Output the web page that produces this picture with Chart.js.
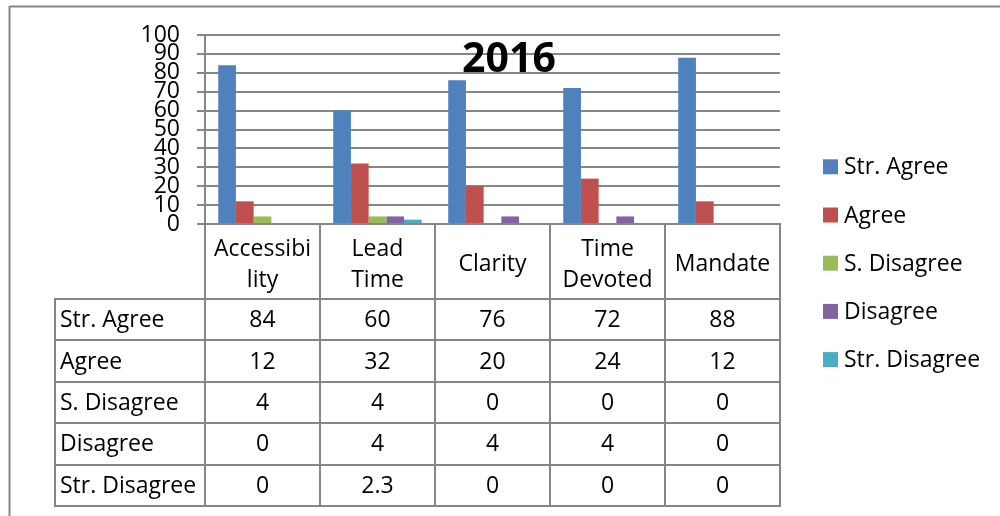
<!DOCTYPE html>
<html>
<head>
<meta charset="utf-8">
<title>2016</title>
<script src="https://cdn.jsdelivr.net/npm/chart.js@4.4.1/dist/chart.umd.min.js"></script>
<style>
  html, body { margin: 0; padding: 0; background: #fff; }
  #wrap { width: 1000px; height: 516px; }
</style>
</head>
<body>
<div id="wrap"><canvas id="surveyChart" width="1000" height="516"></canvas></div>
<script>
const CHART_TITLE = "2016";
const CATEGORIES = [["Accessibi", "lity"], ["Lead", "Time"], "Clarity", ["Time", "Devoted"], "Mandate"];
const SERIES_NAMES = ["Str. Agree", "Agree", "S. Disagree", "Disagree", "Str. Disagree"];
const STR_AGREE = [84, 60, 76, 72, 88];
const AGREE = [12, 32, 20, 24, 12];
const S_DISAGREE = [4, 4, 0, 0, 0];
const DISAGREE = [0, 4, 4, 4, 0];
const STR_DISAGREE = [0, 2.3, 0, 0, 0];
const Y_MIN = 0;
const Y_MAX = 100;
const Y_STEP = 10;

const SERIES_COLORS = ["#4F81BD", "#C0504D", "#9BBB59", "#8064A2", "#4BACC6"];
const LINE_COLOR = "#868686";
const FONT_FAMILY = "'Open Sans', 'DejaVu Sans', sans-serif";
const TEXT_SIZE = 23;

Chart.defaults.font.family = FONT_FAMILY;
Chart.defaults.color = "#000";

// table under the plot, legend on the right, frame and title
const tablePlugin = {
  id: "dataTable",
  afterDraw(chart) {
    const { ctx, chartArea, scales } = chart;
    const x = scales.x;
    const colWidth = x.width / CATEGORIES.length;
    const labelLeft = 55;
    const headerBottom = 299;
    const rowHeight = 41.4;
    const tableBottom = headerBottom + rowHeight * SERIES_NAMES.length;

    ctx.save();
    ctx.strokeStyle = LINE_COLOR;
    ctx.lineWidth = 2;
    ctx.beginPath();
    for (let i = 0; i <= CATEGORIES.length; i++) {
      const px = Math.round(chartArea.left + colWidth * i);
      ctx.moveTo(px, chartArea.bottom);
      ctx.lineTo(px, tableBottom);
    }
    ctx.moveTo(labelLeft, headerBottom);
    ctx.lineTo(labelLeft, tableBottom);
    for (let r = 0; r <= SERIES_NAMES.length; r++) {
      const py = Math.round(headerBottom + rowHeight * r);
      ctx.moveTo(labelLeft - 1, py);
      ctx.lineTo(chartArea.right + 1, py);
    }
    ctx.stroke();

    // outer frame
    ctx.beginPath();
    ctx.moveTo(9.5, 6);
    ctx.lineTo(9.5, 516);
    ctx.moveTo(9, 6.5);
    ctx.lineTo(1000, 6.5);
    ctx.stroke();

    ctx.fillStyle = "#000";
    ctx.font = `${TEXT_SIZE}px ${FONT_FAMILY}`;
    ctx.textBaseline = "middle";
    chart.data.datasets.forEach((dataset, r) => {
      const cy = headerBottom + rowHeight * r + rowHeight / 2 + 1;
      ctx.textAlign = "left";
      ctx.fillText(dataset.label, 60, cy);
      ctx.textAlign = "center";
      dataset.data.forEach((value, i) => {
        ctx.fillText(String(value), x.getPixelForValue(i), cy);
      });
    });

    // legend
    ctx.textAlign = "left";
    chart.data.datasets.forEach((dataset, r) => {
      const cy = 166.8 + 48.2 * r;
      ctx.fillStyle = dataset.backgroundColor;
      ctx.fillRect(823, cy - 7.5, 15, 15);
      ctx.fillStyle = "#000";
      ctx.fillText(dataset.label, 844, cy + 1);
    });

    ctx.font = `bold 41px ${FONT_FAMILY}`;
    ctx.textAlign = "center";
    ctx.textBaseline = "alphabetic";
    ctx.fillText(CHART_TITLE, 509, 72);
    ctx.restore();
  },
};

const seriesValues = [STR_AGREE, AGREE, S_DISAGREE, DISAGREE, STR_DISAGREE];

new Chart(document.querySelector("#surveyChart"), {
  type: "bar",
  data: {
    labels: CATEGORIES,
    datasets: SERIES_NAMES.map((name, i) => ({
      label: name,
      data: seriesValues[i],
      backgroundColor: SERIES_COLORS[i],
      borderWidth: 0,
      categoryPercentage: 0.77,
      barPercentage: 1,
    })),
  },
  options: {
    responsive: false,
    animation: false,
    devicePixelRatio: 1,
    layout: {
      padding: { top: 35, right: 220, bottom: 0, left: 0 },
    },
    plugins: {
      legend: { display: false },
      title: { display: false },
      tooltip: { enabled: false },
    },
    scales: {
      x: {
        offset: true,
        grid: { display: true, drawOnChartArea: false, drawTicks: false },
        border: { display: true, color: LINE_COLOR, width: 2 },
        ticks: {
          autoSkip: false,
          maxRotation: 0,
          crossAlign: "center",
          padding: 25,
          font: { size: TEXT_SIZE, lineHeight: 1.35 },
        },
        afterFit: (scale) => {
          scale.height = 292;
        },
      },
      y: {
        min: Y_MIN,
        max: Y_MAX,
        grid: { color: LINE_COLOR, lineWidth: 2, tickLength: 8 },
        border: { display: true, color: LINE_COLOR, width: 2 },
        ticks: {
          stepSize: Y_STEP,
          autoSkip: false,
          padding: 17,
          font: { size: TEXT_SIZE, lineHeight: 1 },
        },
        afterFit: (scale) => {
          scale.width = 205;
        },
      },
    },
  },
  plugins: [tablePlugin],
});
</script>
</body>
</html>
